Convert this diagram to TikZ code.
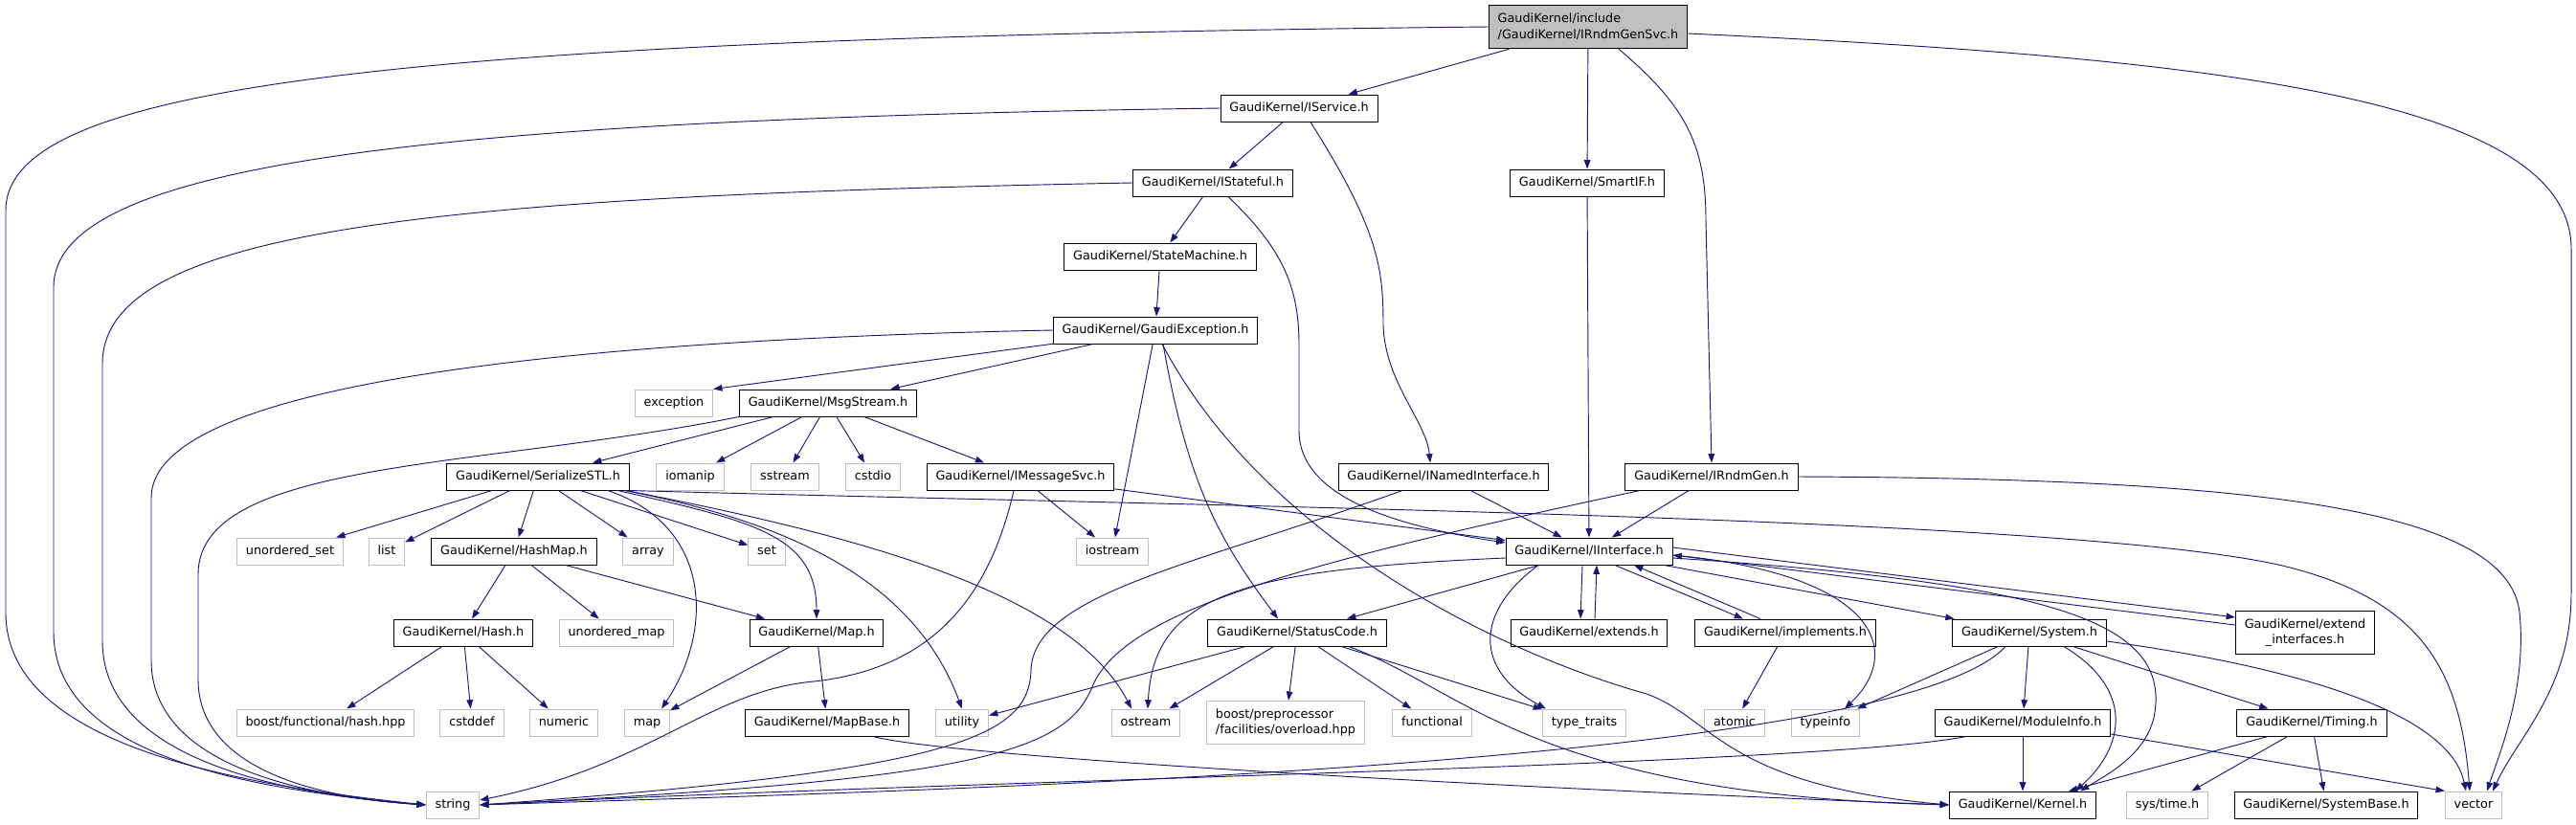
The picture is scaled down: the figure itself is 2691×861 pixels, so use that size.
\documentclass[tikz,border=0pt]{standalone}
\usepackage{fontspec}
\setmainfont{DejaVu Sans}
\usetikzlibrary{arrows.meta,calc}
\definecolor{edgeblue}{RGB}{25,25,112}
\definecolor{leafgray}{RGB}{191,191,191}
\begin{document}
\begin{tikzpicture}[x=0.75pt,y=-0.75pt,
  box/.style={rectangle,font=\fontsize{9.6}{12.5}\selectfont,inner xsep=7pt,inner ysep=2pt,minimum height=21pt,line width=0.75pt},
  hdr/.style={box,draw=black,fill=white,text height=7pt,text depth=2pt},
  std/.style={box,draw=leafgray,fill=white,text height=7pt,text depth=2pt},
  main/.style={box,draw=black,fill=leafgray,align=left,minimum height=34pt},
  inc/.style={edgeblue,line width=0.7pt,-{Triangle[length=7pt,width=5pt]}}]
\useasboundingbox (0,0) rectangle (2691,861);

\node[main] (top) at (1659,28) {GaudiKernel/include\\/GaudiKernel/IRndmGenSvc.h};
\node[hdr] (isvc) at (1357,113) {GaudiKernel/IService.h};
\node[hdr] (istate) at (1267,191) {GaudiKernel/IStateful.h};
\node[hdr] (smartif) at (1658,191) {GaudiKernel/SmartIF.h};
\node[hdr] (statem) at (1212,268) {GaudiKernel/StateMachine.h};
\node[hdr] (gexc) at (1207,345) {GaudiKernel/GaudiException.h};
\node[std] (except) at (704,421) {exception};
\node[hdr] (msgs) at (865,421) {GaudiKernel/MsgStream.h};
\node[hdr] (sstl) at (562,498) {GaudiKernel/SerializeSTL.h};
\node[std] (iomanip) at (721,498) {iomanip};
\node[std] (sstream) at (820,498) {sstream};
\node[std] (cstdio) at (912,498) {cstdio};
\node[hdr] (imsg) at (1066,498) {GaudiKernel/IMessageSvc.h};
\node[hdr] (inamed) at (1508,498) {GaudiKernel/INamedInterface.h};
\node[hdr] (irndm) at (1788,498) {GaudiKernel/IRndmGen.h};
\node[std] (uset) at (303,576) {unordered\_set};
\node[std] (list) at (404,576) {list};
\node[hdr] (hashmap) at (537,576) {GaudiKernel/HashMap.h};
\node[std] (array) at (677,576) {array};
\node[std] (set) at (801,576) {set};
\node[std] (iostream) at (1162,576) {iostream};
\node[hdr] (iintf) at (1660,576) {GaudiKernel/IInterface.h};
\node[hdr] (hash) at (484,661) {GaudiKernel/Hash.h};
\node[std] (umap) at (644,661) {unordered\_map};
\node[hdr] (maph) at (853,661) {GaudiKernel/Map.h};
\node[hdr] (statc) at (1355,661) {GaudiKernel/StatusCode.h};
\node[hdr] (extends) at (1660,661) {GaudiKernel/extends.h};
\node[hdr] (impl) at (1865,661) {GaudiKernel/implements.h};
\node[hdr] (system) at (2120,661) {GaudiKernel/System.h};
\node[box,draw=black,fill=white,align=center,minimum height=34pt] (extif) at (2408,661) {GaudiKernel/extend\\\_interfaces.h};
\node[std] (bfh) at (340,755) {boost/functional/hash.hpp};
\node[std] (cstddef) at (493,755) {cstddef};
\node[std] (numeric) at (589,755) {numeric};
\node[std] (stdmap) at (676,755) {map};
\node[hdr] (mapbase) at (864,755) {GaudiKernel/MapBase.h};
\node[std] (utility) at (1005,755) {utility};
\node[std] (ostream) at (1197,755) {ostream};
\node[box,draw=leafgray,fill=white,align=left,minimum height=34pt] (bpp) at (1343,755) {boost/preprocessor\\/facilities/overload.hpp};
\node[std] (functional) at (1496,755) {functional};
\node[std] (typetraits) at (1655,755) {type\_traits};
\node[std] (atomic) at (1812,755) {atomic};
\node[std] (typeinfo) at (1907,755) {typeinfo};
\node[hdr] (modinfo) at (2113,755) {GaudiKernel/ModuleInfo.h};
\node[hdr] (timing) at (2415,755) {GaudiKernel/Timing.h};
\node[std] (string) at (473,841) {string};
\node[hdr] (kernel) at (2113,841) {GaudiKernel/Kernel.h};
\node[std] (systime) at (2264,841) {sys/time.h};
\node[hdr] (sysbase) at (2430,841) {GaudiKernel/SystemBase.h};
\node[std] (vector) at (2584,841) {vector};

% IRndmGenSvc.h
\draw[inc] (top.west) .. controls (400,40) and (6,90) .. (6,220) -- (6,640) .. controls (6,780) and (250,820) .. (string.west);
\draw[inc] (top) -- (isvc);
\draw[inc] (top) -- (smartif);
\draw[inc] ($(top.south)+(32,0)$) .. controls (1760,110) and (1782,150) .. (1782,230) -- (irndm.north);
\draw[inc] ($(top.east)+(0,7)$) .. controls (2300,60) and (2686,100) .. (2686,260) -- (2686,620) .. controls (2686,720) and (2630,770) .. ($(vector.north)+(20,0)$);

% IService.h, IStateful.h
\draw[inc] (isvc.west) .. controls (450,125) and (56,170) .. (56,300) -- (56,660) .. controls (56,790) and (260,825) .. (string.west);
\draw[inc] (isvc) -- (istate);
\draw[inc] ($(isvc.south)+(12,0)$) .. controls (1440,240) and (1445,280) .. (1445,340) .. controls (1447,400) and (1490,440) .. ($(inamed.north)+(-14,0)$);
\draw[inc] (istate.west) .. controls (450,205) and (107,240) .. (107,380) -- (107,670) .. controls (107,785) and (270,828) .. (string.west);
\draw[inc] (istate) -- (statem);
\draw[inc] ($(istate.south)+(16,0)$) .. controls (1340,260) and (1357,300) .. (1357,360) -- (1357,450) .. controls (1357,520) and (1460,550) .. ($(iintf.west)+(0,-9)$);
\draw[inc] (statem) -- (gexc);

% GaudiException.h
\draw[inc] (gexc.west) .. controls (600,355) and (158,400) .. (158,520) -- (158,690) .. controls (158,790) and (290,830) .. (string.west);
\draw[inc] (gexc) -- (except.north east);
\draw[inc] (gexc) -- (msgs);
\draw[inc] (gexc) -- (iostream);
\draw[inc] ($(gexc.south)+(8,0)$) .. controls (1240,500) and (1270,560) .. ($(statc.north)+(-20,0)$);
\draw[inc] ($(gexc.south)+(7,0)$) .. controls (1320,560) and (1560,680) .. (1720,725) .. controls (1790,750) and (1800,820) .. (kernel.west);

% MsgStream.h
\draw[inc] (msgs.south west) .. controls (500,490) and (207,480) .. (207,600) -- (207,710) .. controls (207,795) and (310,832) .. (string.west);
\draw[inc] (msgs) -- (sstl);
\draw[inc] (msgs) -- (iomanip);
\draw[inc] (msgs) -- (sstream);
\draw[inc] (msgs) -- (cstdio);
\draw[inc] (msgs) -- (imsg);

% SerializeSTL.h
\draw[inc] (sstl) -- (uset);
\draw[inc] (sstl) -- (list);
\draw[inc] (sstl) -- (hashmap);
\draw[inc] (sstl) -- (array);
\draw[inc] (sstl) -- (set);
\draw[inc] ($(sstl.south)+(73,0)$) .. controls (745,550) and (745,660) .. ($(stdmap.north)+(15,0)$);
\draw[inc] ($(sstl.south)+(83,0)$) .. controls (790,545) and (853,560) .. (maph.north);
\draw[inc] ($(sstl.south)+(90,0)$) .. controls (850,550) and (960,620) .. (utility.north);
\draw[inc] ($(sstl.south east)+(-4,0)$) .. controls (900,560) and (1120,620) .. ($(ostream.north)+(-15,0)$);
\draw[inc] (sstl.south east) .. controls (1300,530) and (2150,540) .. (2380,590) .. controls (2530,625) and (2570,700) .. ($(vector.north)+(-4,0)$);

% IMessageSvc.h, INamedInterface.h, IRndmGen.h, SmartIF.h
\draw[inc] (imsg) -- (iostream);
\draw[inc] (imsg) -- (iintf);
\draw[inc] ($(imsg.south)+(-7,0)$) .. controls (1030,640) and (960,700) .. (850,712) .. controls (740,722) and (680,800) .. ($(string.east)+(0,-5)$);
\draw[inc] (inamed) -- (iintf);
\draw[inc] ($(inamed.south)+(-43,0)$) .. controls (1250,590) and (1080,620) .. (1077,700) .. controls (1075,770) and (1000,805) .. (string.east);
\draw[inc] (irndm) -- (iintf);
\draw[inc] ($(irndm.south west)+(16,0)$) .. controls (1350,590) and (1170,640) .. (1140,720) .. controls (1110,790) and (1000,815) .. (string.east);
\draw[inc] (irndm.east) .. controls (2350,500) and (2620,530) .. (2632,640) .. controls (2640,720) and (2610,790) .. ($(vector.north)+(14,0)$);
\draw[inc] (smartif) -- (iintf);

% IInterface.h
\draw[inc] ($(iintf.west)+(0,7)$) .. controls (1300,595) and (1205,620) .. ($(ostream.north)+(2,0)$);
\draw[inc] (iintf) -- (statc);
\draw[inc] ($(iintf.south)+(-7,0)$) -- ($(extends.north)+(-9,0)$);
\draw[inc] ($(extends.north)+(6,0)$) -- ($(iintf.south)+(8,0)$);
\draw[inc] ($(iintf.south)+(27,0)$) -- ($(impl.north)+(-44,0)$);
\draw[inc] ($(impl.north)+(-26,0)$) -- ($(iintf.south)+(47,0)$);
\draw[inc] (iintf) -- (system);
\draw[inc] ($(iintf.east)+(0,-4)$) -- ($(extif.west)+(0,-16)$);
\draw[inc] ($(extif.west)+(0,-8)$) -- ($(iintf.east)+(0,4)$);
\draw[inc] ($(iintf.south)+(-53,0)$) .. controls (1540,640) and (1540,700) .. ($(typetraits.north)+(-40,0)$);
\draw[inc] ($(iintf.east)+(0,4)$) .. controls (1960,600) and (1990,680) .. ($(typeinfo.north)+(20,0)$);
\draw[inc] ($(iintf.east)+(0,7)$) .. controls (2150,610) and (2270,650) .. (2250,750) .. controls (2240,790) and (2200,810) .. ($(kernel.north)+(60,0)$);

% StatusCode.h
\draw[inc] (statc) -- (ostream);
\draw[inc] (statc) -- (bpp);
\draw[inc] (statc) -- (functional);
\draw[inc] (statc) -- (typetraits);
\draw[inc] (statc) -- (utility);
\draw[inc] ($(statc.south)+(54,0)$) .. controls (1530,720) and (1600,830) .. (kernel.west);

% implements.h, System.h, ModuleInfo.h, Timing.h
\draw[inc] (impl) -- (atomic);
\draw[inc] (system) -- (typeinfo);
\draw[inc] (system) -- (modinfo);
\draw[inc] ($(system.south)+(36,0)$) .. controls (2230,720) and (2220,780) .. ($(kernel.north)+(55,0)$);
\draw[inc] (system) -- (timing);
\draw[inc] ($(system.east)+(0,9)$) .. controls (2420,700) and (2560,750) .. ($(vector.north)+(-8,0)$);
\draw[inc] ($(system.south)+(-25,0)$) .. controls (1980,800) and (1000,825) .. (string.east);
\draw[inc] (modinfo) -- (kernel);
\draw[inc] ($(modinfo.south)+(-59,0)$) .. controls (1900,800) and (1000,815) .. (string.east);
\draw[inc] ($(modinfo.east)+(0,12)$) -- (vector.north west);
\draw[inc] ($(timing.south)+(-46,0)$) -- ($(kernel.north)+(48,0)$);
\draw[inc] (timing) -- (systime);
\draw[inc] (timing) -- (sysbase);

% HashMap.h, Hash.h, Map.h, MapBase.h
\draw[inc] (hashmap) -- (hash);
\draw[inc] (hashmap) -- (umap);
\draw[inc] (hashmap) -- (maph);
\draw[inc] (hash) -- (bfh);
\draw[inc] (hash) -- (cstddef);
\draw[inc] (hash) -- (numeric);
\draw[inc] (maph) -- (stdmap);
\draw[inc] (maph) -- (mapbase);
\draw[inc] ($(mapbase.south)+(48,0)$) .. controls (990,790) and (1500,820) .. (kernel.west);

\end{tikzpicture}
\end{document}
